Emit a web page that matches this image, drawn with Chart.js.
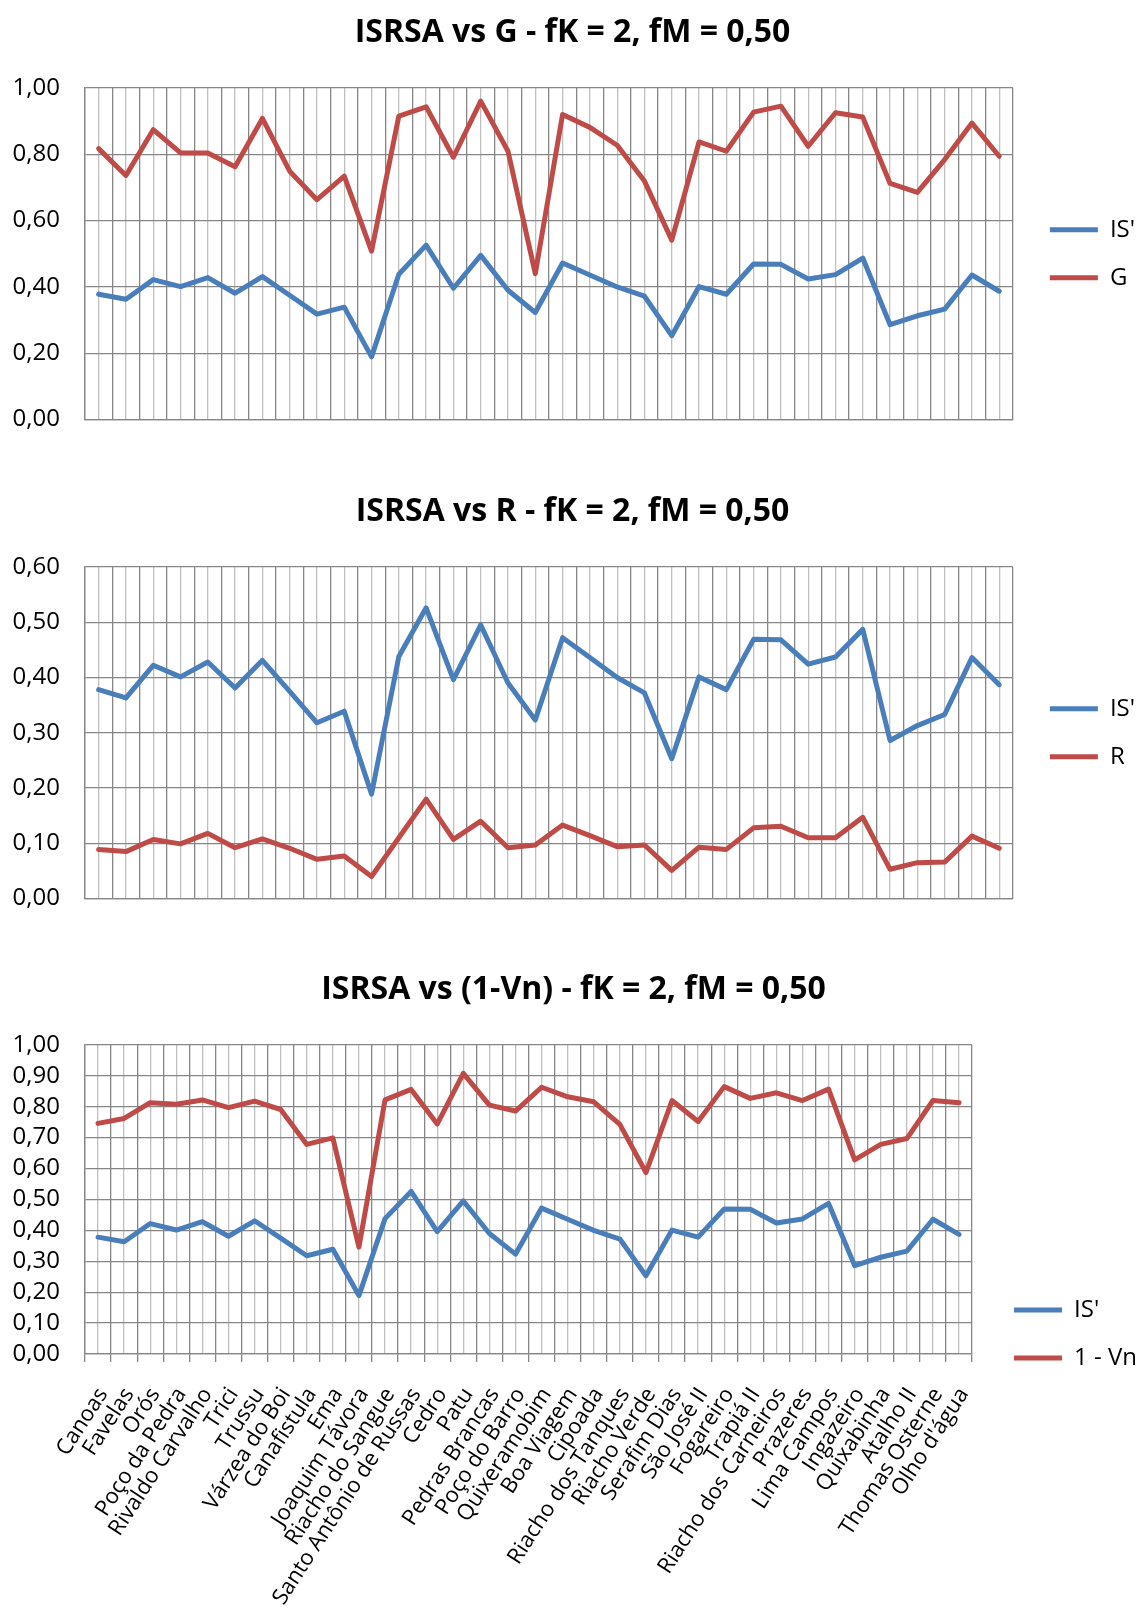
<!DOCTYPE html>
<html>
<head>
<meta charset="utf-8">
<title>ISRSA</title>
<script src="https://cdn.jsdelivr.net/npm/chart.js@4.4.1/dist/chart.umd.min.js"></script>
<style>
    html, body {
        margin: 0;
        padding: 0;
        background: #ffffff;
        width: 1137px;
        height: 1616px;
        overflow: hidden;
        position: relative;
    }
    canvas {
        position: absolute;
        left: 0;
    }
</style>
</head>
<body>
<canvas id="chartG" width="1147" height="459" style="top:0px"></canvas>
<canvas id="chartR" width="1147" height="459" style="top:479px"></canvas>
<canvas id="chartVn" width="1147" height="754" style="top:957px"></canvas>

<script>
// Reservatórios (categorias)
const categories = [
    'Canoas', 'Favelas', 'Orós', 'Poço da Pedra', 'Rivaldo Carvalho', 'Trici', 'Trussu',
    'Várzea do Boi', 'Canafistula', 'Ema', 'Joaquim Távora', 'Riacho do Sangue',
    'Santo Antônio de Russas', 'Cedro', 'Patu', 'Pedras Brancas', 'Poço do Barro',
    'Quixeramobim', 'Boa Viagem', 'Cipoada', 'Riacho dos Tanques', 'Riacho Verde',
    'Serafim Dias', 'São José II', 'Fogareiro', 'Trapiá II', 'Riacho dos Carneiros',
    'Prazeres', 'Lima Campos', 'Ingazeiro', 'Quixabinha', 'Atalho II', 'Thomas Osterne',
    "Olho d'água"
];

// IS' (igual nos três gráficos)
const isValues = [
    0.378, 0.363, 0.422, 0.401, 0.428, 0.381, 0.431, 0.375, 0.318, 0.339, 0.189, 0.438,
    0.526, 0.396, 0.495, 0.390, 0.323, 0.472, 0.436, 0.400, 0.372, 0.253, 0.401, 0.378,
    0.469, 0.468, 0.424, 0.437, 0.487, 0.286, 0.313, 0.333, 0.436, 0.387
];

const gValues = [
    0.817, 0.736, 0.874, 0.804, 0.804, 0.762, 0.908, 0.749, 0.663, 0.734, 0.508, 0.915,
    0.943, 0.791, 0.960, 0.809, 0.440, 0.920, 0.881, 0.827, 0.719, 0.541, 0.837, 0.809,
    0.927, 0.945, 0.824, 0.925, 0.912, 0.712, 0.685, 0.784, 0.894, 0.794
];

const rValues = [
    0.089, 0.085, 0.107, 0.099, 0.118, 0.092, 0.108, 0.091, 0.071, 0.077, 0.040, 0.110,
    0.180, 0.107, 0.140, 0.092, 0.097, 0.133, 0.114, 0.094, 0.097, 0.051, 0.093, 0.089,
    0.128, 0.131, 0.110, 0.110, 0.147, 0.053, 0.065, 0.066, 0.113, 0.091
];

const vnValues = [
    0.746, 0.762, 0.813, 0.808, 0.822, 0.797, 0.818, 0.791, 0.678, 0.699, 0.346, 0.822,
    0.856, 0.744, 0.908, 0.805, 0.786, 0.863, 0.832, 0.816, 0.743, 0.587, 0.820, 0.752,
    0.865, 0.827, 0.845, 0.820, 0.857, 0.628, 0.678, 0.697, 0.820, 0.813
];

const BLUE = '#4a7ebb';
const RED = '#be4b48';
const GRID_DARK = '#868686';
const GRID_LIGHT = '#c0c0c0';
const FONT = "'Open Sans', sans-serif";

Chart.defaults.font.family = FONT;
Chart.defaults.color = '#000000';

// formato brasileiro: 0,40
const fmt = (v) => Number(v).toFixed(2).replace('.', ',');

function buildChart(id, cfg) {
    const ctx = document.getElementById(id).getContext('2d');

    const lineStyle = {
        borderWidth: 5,
        pointRadius: 0,
        pointHoverRadius: 0,
        tension: 0,
        borderJoinStyle: 'round',
        borderCapStyle: 'round'
    };

    return new Chart(ctx, {
        type: 'line',
        data: {
            labels: categories,
            datasets: [{
                label: "IS'",
                data: isValues,
                borderColor: BLUE,
                backgroundColor: BLUE,
                ...lineStyle
            }, {
                label: cfg.label,
                data: cfg.values,
                borderColor: RED,
                backgroundColor: RED,
                ...lineStyle
            }]
        },
        options: {
            responsive: false,
            animation: false,
            layout: {
                padding: { left: 0, right: cfg.padRight, top: 0, bottom: 0 }
            },
            plugins: {
                title: {
                    display: true,
                    text: cfg.title,
                    color: '#000000',
                    font: { size: 32, weight: 'bold' },
                    padding: { top: 14, bottom: 35.5 }
                },
                legend: {
                    position: 'right',
                    fullSize: cfg.legendFull,
                    labels: {
                        usePointStyle: true,
                        pointStyle: 'line',
                        pointStyleWidth: 48,
                        padding: 24,
                        color: '#000000',
                        font: { size: 24 }
                    }
                },
                tooltip: { enabled: false }
            },
            scales: {
                x: {
                    offset: true,
                    grid: {
                        offset: true,
                        color: GRID_DARK,
                        lineWidth: 1.3,
                        drawTicks: cfg.showLabels,
                        tickLength: 8
                    },
                    border: { color: GRID_DARK, width: 1.3 },
                    ticks: {
                        display: cfg.showLabels,
                        autoSkip: false,
                        maxRotation: 57,
                        minRotation: 57,
                        padding: 21,
                        labelOffset: 5,
                        color: '#000000',
                        font: { size: 22 }
                    },
                    afterFit: (scale) => { scale.height = cfg.xHeight; }
                },
                // linhas secundárias no centro de cada categoria
                xMinor: {
                    position: 'top',
                    offset: true,
                    grid: {
                        offset: false,
                        color: GRID_LIGHT,
                        lineWidth: 1.3,
                        drawTicks: false
                    },
                    border: { display: false },
                    ticks: { display: false }
                },
                y: {
                    min: 0,
                    max: cfg.max,
                    ticks: {
                        count: cfg.count,
                        autoSkip: false,
                        padding: 25,
                        color: '#000000',
                        font: { size: 24 },
                        callback: fmt
                    },
                    grid: { color: GRID_DARK, lineWidth: 1.3, drawTicks: false },
                    border: { color: GRID_DARK, width: 1.3 },
                    afterFit: (scale) => { scale.width = 85; }
                },
                // espaço entre a área do gráfico e a legenda
                gap: {
                    position: 'right',
                    grid: { display: false },
                    border: { display: false },
                    ticks: { display: false },
                    afterFit: (scale) => { scale.width = cfg.gap; }
                }
            }
        }
    });
}

buildChart('chartG', {
    title: 'ISRSA vs G - fK = 2, fM = 0,50',
    label: 'G',
    values: gValues,
    max: 1,
    count: 6,
    showLabels: false,
    xHeight: 31.5,
    legendFull: false,
    padRight: 2,
    gap: 13
});

buildChart('chartR', {
    title: 'ISRSA vs R - fK = 2, fM = 0,50',
    label: 'R',
    values: rValues,
    max: 0.6,
    count: 7,
    showLabels: false,
    xHeight: 31.5,
    legendFull: false,
    padRight: 2,
    gap: 13
});

buildChart('chartVn', {
    title: 'ISRSA vs (1-Vn) - fK = 2, fM = 0,50',
    label: '1 - Vn',
    values: vnValues,
    max: 1,
    count: 11,
    showLabels: true,
    xHeight: 357,
    legendFull: true,
    padRight: 0,
    gap: 18
});
</script>
</body>
</html>
